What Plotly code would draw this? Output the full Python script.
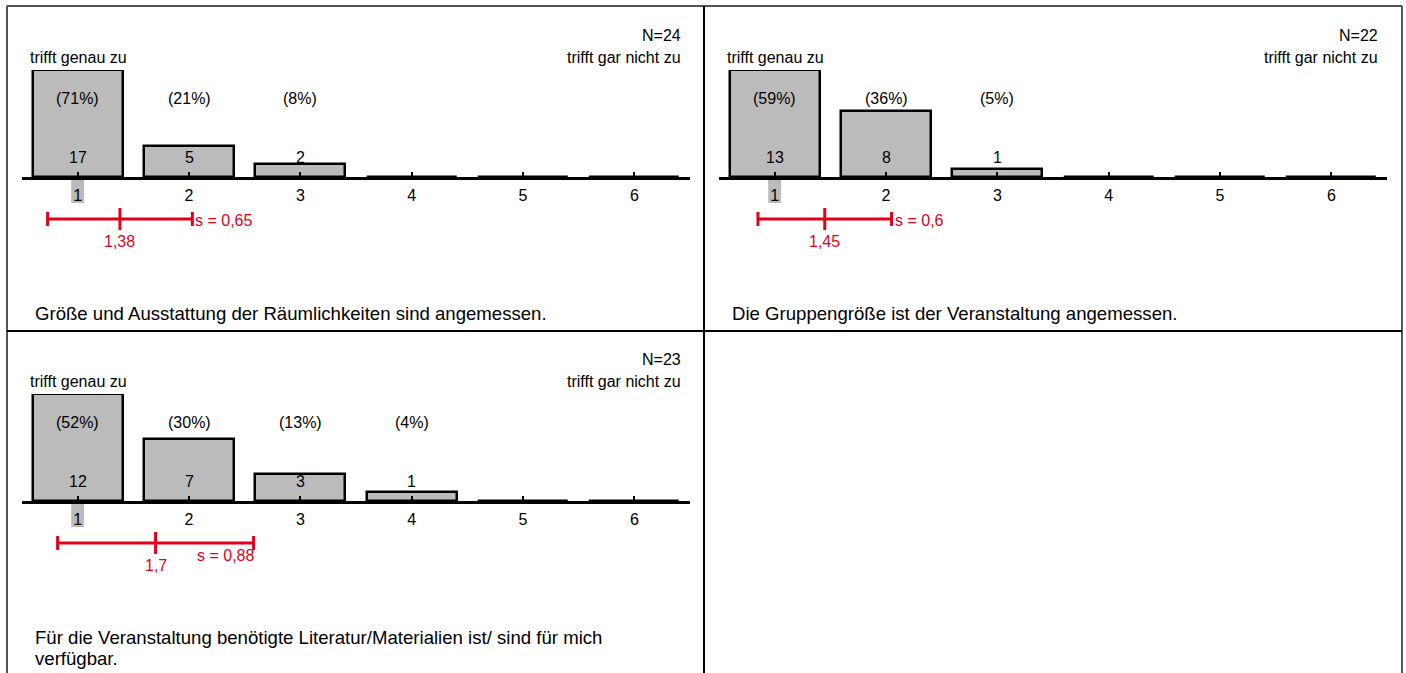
import plotly.graph_objects as go

W, H = 1406, 673

categories = [1, 2, 3, 4, 5, 6]
tick_labels = ["1", "2", "3", "4", "5", "6"]

counts_p1 = [17, 5, 2, 0, 0, 0]
counts_p2 = [13, 8, 1, 0, 0, 0]
counts_p3 = [12, 7, 3, 1, 0, 0]

pct_p1 = ["(71%)", "(21%)", "(8%)", "", "", ""]
pct_p2 = ["(59%)", "(36%)", "(5%)", "", "", ""]
pct_p3 = ["(52%)", "(30%)", "(13%)", "(4%)", "", ""]

n_values = [24, 22, 23]
means = [1.38, 1.45, 1.7]
mean_labels = ["1,38", "1,45", "1,7"]
sds = [0.65, 0.6, 0.88]
sd_labels = ["s = 0,65", "s = 0,6", "s = 0,88"]
medians = [1, 1, 1]

questions = [
    ["Größe und Ausstattung der Räumlichkeiten sind angemessen."],
    ["Die Gruppengröße ist der Veranstaltung angemessen."],
    ["Für die Veranstaltung benötigte Literatur/Materialien ist/ sind für mich", "verfügbar."],
]

left_label = "trifft genau zu"
right_label = "trifft gar nicht zu"

FONT = "Arial, Liberation Sans, sans-serif"
RED = "#e2001a"
BAR = "#bbbbbb"
FS = 16
FQ = 18.6

def px(x):
    return x / W

def py(y):
    return 1 - y / H

panels = [
    dict(counts=counts_p1, pct=pct_p1, dx=0, dy=0),
    dict(counts=counts_p2, pct=pct_p2, dx=697, dy=0),
    dict(counts=counts_p3, pct=pct_p3, dx=0, dy=324),
]

fig = go.Figure()
annotations = []
shapes = []

def txt(x, y, text, xref="paper", xanchor="center", color="black", size=FS, **kw):
    d = dict(x=x, y=y, xref=xref, yref="paper", text=text, xanchor=xanchor, yanchor="middle",
             showarrow=False, font=dict(family=FONT, size=size, color=color))
    d.update(kw)
    annotations.append(d)

for i, p in enumerate(panels):
    k = "" if i == 0 else str(i + 1)
    dx, dy = p["dx"], p["dy"]
    xa, ya = "x" + k, "y" + k
    fig.add_trace(go.Bar(
        x=categories, y=p["counts"], width=0.81,
        marker=dict(color=BAR, line=dict(color="black", width=2.5)),
        xaxis=xa, yaxis=ya, showlegend=False, hoverinfo="skip",
    ))
    fig.layout["xaxis" + k] = dict(
        domain=[px(22 + dx), px(690 + dx)], range=[0.5, 6.5],
        anchor=ya, tickvals=categories, ticktext=tick_labels,
        ticks="inside", ticklen=5, tickwidth=2, tickcolor="black",
        ticklabelstandoff=2,
        showline=True, linecolor="black", linewidth=3,
        showgrid=False, zeroline=False, fixedrange=True,
        tickfont=dict(family=FONT, size=FS, color="black"),
    )
    fig.layout["yaxis" + k] = dict(
        domain=[py(177 + dy), py(70 + dy)], range=[0, max(p["counts"])],
        anchor=xa, visible=False, showgrid=False, zeroline=False, fixedrange=True,
    )
    # median highlight
    shapes.append(dict(type="rect", xref=xa, yref="paper", x0=medians[i] - 0.058, x1=medians[i] + 0.058,
                       y0=py(180 + dy), y1=py(203 + dy), fillcolor=BAR, line=dict(width=0), layer="below"))
    # labels on bars
    for c, cnt, pc in zip(categories, p["counts"], p["pct"]):
        if cnt > 0:
            txt(c, py(157 + dy), str(cnt), xref=xa)
            txt(c, py(98 + dy), pc, xref=xa)
    # N and scale labels
    txt(px(683 + dx), py(35 + dy), "N=%d" % n_values[i], xanchor="right")
    txt(px(683 + dx), py(57 + dy), right_label, xanchor="right")
    txt(px(28 + dx), py(57 + dy), left_label, xanchor="left")
    # mean / sd bar
    m, s = means[i], sds[i]
    ey = 219 + dy
    shapes.append(dict(type="line", xref=xa, yref="paper", x0=m - s, x1=m + s, y0=py(ey), y1=py(ey),
                       line=dict(color=RED, width=3)))
    for xe in (m - s, m + s):
        shapes.append(dict(type="line", xref=xa, yref="paper", x0=xe, x1=xe, y0=py(ey - 7), y1=py(ey + 7),
                           line=dict(color=RED, width=3)))
    shapes.append(dict(type="line", xref=xa, yref="paper", x0=m, x1=m, y0=py(ey - 11), y1=py(ey + 11),
                       line=dict(color=RED, width=3)))
    txt(m, py(241 + dy), mean_labels[i], xref=xa, color=RED)
    if i == 2:
        txt(m + s, py(231 + dy), sd_labels[i], xref=xa, xanchor="right", color=RED, xshift=2)
    else:
        txt(m + s, py(221 + dy), sd_labels[i], xref=xa, xanchor="left", color=RED, xshift=1)
    # question text
    for j, line in enumerate(questions[i]):
        txt(px(33 + dx), py(313 + dy + 21 * j), line, xanchor="left", size=FQ)

# frame
GREY = "#555555"
shapes += [
    dict(type="line", xref="paper", yref="paper", x0=px(7), x1=px(1402), y0=py(6), y1=py(6), line=dict(color=GREY, width=2)),
    dict(type="line", xref="paper", yref="paper", x0=px(7), x1=px(7), y0=py(6), y1=py(673), line=dict(color=GREY, width=2)),
    dict(type="line", xref="paper", yref="paper", x0=px(1402), x1=px(1402), y0=py(6), y1=py(673), line=dict(color=GREY, width=2)),
    dict(type="line", xref="paper", yref="paper", x0=px(704), x1=px(704), y0=py(6), y1=py(673), line=dict(color="black", width=2)),
    dict(type="line", xref="paper", yref="paper", x0=px(7), x1=px(1402), y0=py(331), y1=py(331), line=dict(color="black", width=2)),
]

fig.update_layout(
    width=W, height=H, margin=dict(l=0, r=0, t=0, b=0), autosize=False,
    paper_bgcolor="white", plot_bgcolor="rgba(0,0,0,0)", bargap=0,
    annotations=annotations, shapes=shapes,
    font=dict(family=FONT, size=FS, color="black"),
)

fig.write_html("out.html", config={"displayModeBar": False},
               post_script="document.body.style.margin='0';document.body.style.padding='0';document.body.style.overflow='hidden';")
